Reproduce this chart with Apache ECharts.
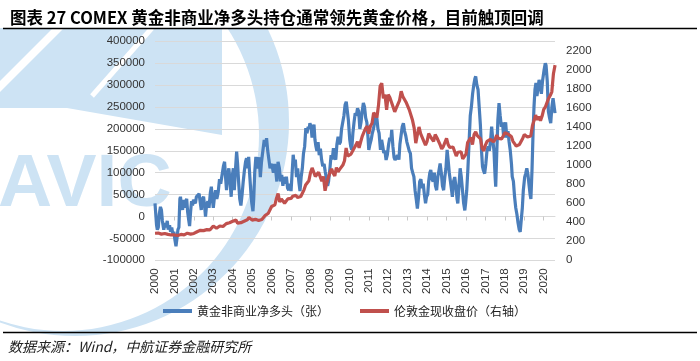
<!DOCTYPE html>
<html><head><meta charset="utf-8">
<script src="https://cdn.jsdelivr.net/npm/echarts@6/dist/echarts.min.js"></script>
<style>html,body{margin:0;padding:0;background:#fff}#c{width:700px;height:361px}</style>
</head><body><div id="c"></div>
<script>
const titleText = '图表 27 COMEX 黄金非商业净多头持仓通常领先黄金价格，目前触顶回调';
const sourceText = '数据来源：Wind，中航证券金融研究所';
const seriesNames = ['黄金非商业净多头（张）', '伦敦金现收盘价（右轴）'];
const yearTicks = [2000,2001,2002,2003,2004,2005,2006,2007,2008,2009,2010,2011,2012,2013,2014,2015,2016,2017,2018,2019,2020];

// COMEX gold non-commercial net long (contracts), [decimal year, value]
const netLong = [
[2000.00,30000],[2000.03,33000],[2000.08,-20000],[2000.12,-30000],[2000.17,-25000],[2000.22,5000],[2000.28,22000],[2000.33,15000],[2000.38,-10000],[2000.45,-30000],[2000.52,-15000],[2000.57,-25000],[2000.63,-10000],[2000.68,-30000],[2000.75,-20000],[2000.80,-35000],[2000.86,-25000],[2000.92,-40000],[2000.97,-35000],
[2001.03,-55000],[2001.08,-68000],[2001.13,-50000],[2001.18,-30000],[2001.23,-25000],[2001.28,40000],[2001.31,45000],[2001.36,25000],[2001.42,15000],[2001.47,38000],[2001.52,20000],[2001.58,35000],[2001.63,40000],[2001.68,10000],[2001.74,-10000],[2001.78,-22000],[2001.83,10000],[2001.88,35000],[2001.93,25000],[2001.98,38000],
[2002.03,40000],[2002.08,30000],[2002.13,45000],[2002.20,42000],[2002.27,52000],[2002.32,35000],[2002.38,15000],[2002.43,40000],[2002.50,45000],[2002.56,20000],[2002.60,0],[2002.65,25000],[2002.72,35000],[2002.78,20000],[2002.85,55000],[2002.90,68000],[2002.95,40000],
[2003.00,20000],[2003.06,45000],[2003.12,60000],[2003.18,40000],[2003.25,55000],[2003.32,85000],[2003.38,75000],[2003.45,95000],[2003.52,115000],[2003.58,125000],[2003.63,90000],[2003.68,60000],[2003.74,95000],[2003.80,110000],[2003.86,80000],[2003.92,45000],[2003.97,90000],
[2004.03,110000],[2004.08,60000],[2004.13,100000],[2004.20,148000],[2004.25,120000],[2004.30,80000],[2004.36,40000],[2004.42,25000],[2004.48,50000],[2004.54,80000],[2004.60,105000],[2004.66,125000],[2004.71,133000],[2004.76,110000],[2004.82,136000],[2004.88,90000],[2004.94,50000],[2004.98,30000],
[2005.04,12000],[2005.08,40000],[2005.13,100000],[2005.19,136000],[2005.25,110000],[2005.30,120000],[2005.36,135000],[2005.42,90000],[2005.48,125000],[2005.55,150000],[2005.62,175000],[2005.68,160000],[2005.74,179000],[2005.80,150000],[2005.86,130000],[2005.92,110000],[2005.97,120000],
[2006.03,115000],[2006.09,100000],[2006.15,120000],[2006.21,105000],[2006.27,80000],[2006.33,125000],[2006.40,110000],[2006.46,80000],[2006.52,95000],[2006.58,70000],[2006.64,90000],[2006.70,75000],[2006.76,91000],[2006.82,65000],[2006.88,60000],[2006.94,75000],
[2007.00,58000],[2007.05,60000],[2007.11,141000],[2007.16,120000],[2007.22,130000],[2007.28,90000],[2007.34,110000],[2007.40,80000],[2007.46,58000],[2007.52,90000],[2007.58,110000],[2007.64,144000],[2007.70,160000],[2007.76,202000],[2007.82,190000],[2007.88,205000],[2007.93,200000],[2007.97,213000],
[2008.03,205000],[2008.08,180000],[2008.13,200000],[2008.18,210000],[2008.23,175000],[2008.28,160000],[2008.33,150000],[2008.39,170000],[2008.45,140000],[2008.51,155000],[2008.57,130000],[2008.63,115000],[2008.70,120000],[2008.76,102000],[2008.82,103000],[2008.88,70000],[2008.93,80000],
[2009.00,110000],[2009.06,140000],[2009.12,130000],[2009.18,156000],[2009.24,135000],[2009.30,130000],[2009.36,165000],[2009.42,182000],[2009.48,165000],[2009.54,170000],[2009.60,200000],[2009.66,215000],[2009.72,230000],[2009.78,255000],[2009.84,262000],[2009.89,266000],[2009.95,220000],
[2010.02,175000],[2010.07,160000],[2010.12,152000],[2010.18,190000],[2010.24,215000],[2010.30,236000],[2010.36,230000],[2010.42,247000],[2010.48,240000],[2010.54,200000],[2010.60,215000],[2010.66,240000],[2010.72,259000],[2010.78,250000],[2010.84,225000],[2010.90,215000],[2010.96,180000],
[2011.00,152000],[2011.06,165000],[2011.12,175000],[2011.18,190000],[2011.24,200000],[2011.30,215000],[2011.36,236000],[2011.42,222000],[2011.47,200000],[2011.53,190000],[2011.60,152000],[2011.66,175000],[2011.72,160000],[2011.77,145000],[2011.83,150000],[2011.89,129000],[2011.95,140000],
[2012.02,165000],[2012.08,180000],[2012.14,175000],[2012.18,198000],[2012.24,160000],[2012.30,135000],[2012.35,129000],[2012.42,125000],[2012.48,140000],[2012.55,130000],[2012.60,165000],[2012.66,185000],[2012.72,205000],[2012.78,213000],[2012.84,195000],[2012.90,185000],[2012.96,170000],
[2013.02,160000],[2013.08,150000],[2013.14,144000],[2013.20,110000],[2013.26,100000],[2013.32,91000],[2013.38,60000],[2013.44,40000],[2013.50,18000],[2013.56,45000],[2013.62,80000],[2013.68,85000],[2013.74,65000],[2013.80,75000],[2013.86,50000],[2013.92,30000],[2013.97,45000],
[2014.03,50000],[2014.08,80000],[2014.14,100000],[2014.19,106000],[2014.25,85000],[2014.31,80000],[2014.37,100000],[2014.43,70000],[2014.49,60000],[2014.55,90000],[2014.61,105000],[2014.67,121000],[2014.73,100000],[2014.79,70000],[2014.85,60000],[2014.91,90000],[2014.97,110000],
[2015.03,152000],[2015.08,130000],[2015.14,100000],[2015.20,80000],[2015.26,60000],[2015.30,45000],[2015.36,80000],[2015.42,90000],[2015.48,70000],[2015.54,40000],[2015.58,30000],[2015.64,70000],[2015.70,110000],[2015.76,90000],[2015.82,60000],[2015.88,30000],[2015.94,14000],[2015.98,30000],
[2016.04,60000],[2016.10,110000],[2016.16,170000],[2016.22,230000],[2016.28,251000],[2016.34,280000],[2016.40,300000],[2016.46,315000],[2016.50,320000],[2016.56,300000],[2016.62,290000],[2016.68,250000],[2016.74,210000],[2016.80,150000],[2016.85,114000],[2016.90,105000],[2016.96,98000],
[2017.02,120000],[2017.08,150000],[2017.14,160000],[2017.20,150000],[2017.26,170000],[2017.32,205000],[2017.38,175000],[2017.44,150000],[2017.50,90000],[2017.53,68000],[2017.58,140000],[2017.64,220000],[2017.70,259000],[2017.76,230000],[2017.82,205000],[2017.88,215000],[2017.94,180000],[2017.98,200000],
[2018.04,215000],[2018.10,180000],[2018.16,195000],[2018.22,170000],[2018.28,150000],[2018.34,120000],[2018.38,91000],[2018.44,80000],[2018.50,45000],[2018.56,20000],[2018.62,5000],[2018.68,-15000],[2018.74,-30000],[2018.79,-35000],[2018.84,-10000],[2018.90,20000],[2018.95,60000],
[2019.02,90000],[2019.07,98000],[2019.13,110000],[2019.19,95000],[2019.25,70000],[2019.30,50000],[2019.34,40000],[2019.40,110000],[2019.45,190000],[2019.50,251000],[2019.55,290000],[2019.60,305000],[2019.65,275000],[2019.70,290000],[2019.76,312000],[2019.82,300000],[2019.88,280000],[2019.94,310000],
[2020.02,335000],[2020.08,350000],[2020.12,345000],[2020.18,310000],[2020.24,240000],[2020.30,225000],[2020.36,213000],[2020.42,250000],[2020.48,270000],[2020.54,266000],[2020.58,236000]
];

// London gold spot close (USD/oz), monthly from Jan 2000
const goldStart = 2000;
const goldPrice = [
284,300,286,280,275,285,282,275,272,268,266,272,
266,262,260,262,272,270,267,273,285,280,275,277,
282,296,300,303,315,320,312,310,322,318,320,340,
360,352,336,330,360,350,355,370,385,385,395,412,
410,400,422,390,392,395,390,410,415,425,450,438,
422,435,430,435,418,435,428,435,470,465,495,515,
565,555,582,652,700,612,645,625,600,605,645,635,
650,672,665,682,660,650,670,672,740,790,790,835,
920,970,980,880,890,925,915,830,880,730,810,870,
920,960,915,885,975,930,955,955,1000,1045,1180,1095,
1080,1115,1110,1180,1210,1245,1180,1245,1305,1345,1385,1410,
1330,1410,1440,1550,1530,1500,1630,1830,1860,1700,1740,1580,
1740,1710,1660,1650,1560,1600,1610,1680,1775,1720,1725,1660,
1665,1580,1600,1470,1390,1230,1320,1400,1330,1330,1250,1210,
1250,1330,1300,1300,1250,1320,1290,1290,1215,1170,1195,1200,
1280,1215,1185,1180,1190,1170,1095,1135,1115,1140,1065,1060,
1115,1235,1235,1290,1215,1320,1350,1310,1315,1275,1175,1150,
1210,1250,1245,1270,1270,1245,1270,1315,1280,1270,1275,1305,
1340,1320,1325,1315,1300,1250,1225,1200,1190,1215,1220,1280,
1320,1315,1295,1285,1305,1410,1430,1525,1475,1510,1465,1515,
1585,1610,1600,1700,1730,1770,1960,2050
];

const goldData = goldPrice.map((v, i) => [goldStart + i / 12, v]);
const WM = '#cde3f4';
const axisFont = 'Liberation Sans, Arial, sans-serif';
const cjkFont = 'Noto Sans CJK SC, sans-serif';

const chart = echarts.init(document.getElementById('c'), null, {renderer: 'canvas'});
chart.setOption({
  animation: false,
  backgroundColor: '#fff',
  title: {
    text: titleText, left: 5, top: 4,
    textStyle: {fontSize: 16.5, fontWeight: 'bold', color: '#000', fontFamily: cjkFont}
  },
  graphic: [
    {type: 'circle', z: -30, silent: true, shape: {cx: 75, cy: 122, r: 214}, style: {fill: WM}},
    {type: 'circle', z: -29, silent: true, shape: {cx: 63, cy: 135, r: 196}, style: {fill: '#fff'}},
    {type: 'polygon', z: -28, silent: true, shape: {points: [[0,28],[53,28],[0,81]]}, style: {fill: WM}},
    {type: 'polygon', z: -28, silent: true, shape: {points: [[0,92],[64,28],[222,28],[222,135],[67,108],[0,108]]}, style: {fill: WM}},
    {type: 'line', z: -27, silent: true, shape: {x1: 152, y1: 28, x2: 92, y2: 96}, style: {stroke: '#fff', lineWidth: 5}},
    {type: 'text', z: -27, silent: true, x: -2, y: 148,
      style: {text: 'AVIC', fill: WM, font: 'bold 75px Liberation Sans, Arial, sans-serif', textVerticalAlign: 'top'}},
    {type: 'rect', z: -26, silent: true, shape: {x: 0, y: 0, width: 700, height: 28}, style: {fill: '#fff'}},
    {type: 'line', silent: true, shape: {x1: 3, y1: 28.5, x2: 697, y2: 28.5}, style: {stroke: '#000', lineWidth: 1.5}},
    {type: 'line', silent: true, shape: {x1: 3, y1: 332.5, x2: 697, y2: 332.5}, style: {stroke: '#000', lineWidth: 1.5}},
    {type: 'text', silent: true, x: 8, y: 340,
      style: {text: sourceText, fill: '#222', font: 'italic 14px Noto Sans CJK SC, sans-serif', textVerticalAlign: 'top'}}
  ],
  legend: {
    left: 163, top: 305, padding: 0,
    itemWidth: 29, itemHeight: 4, itemGap: 31, icon: 'rect',
    textStyle: {fontSize: 12, color: '#222', fontFamily: cjkFont},
    data: seriesNames
  },
  grid: {left: 155, right: 145, top: 41.3, bottom: 100.7, containLabel: false, outerBoundsMode: 'none'},
  xAxis: [
    {
      type: 'value', min: 2000, max: 2020.58, position: 'bottom',
      axisLine: {show: false, onZero: false},
      axisTick: {show: false},
      splitLine: {show: false},
      axisLabel: {customValues: yearTicks, rotate: 90, margin: 8, fontSize: 11.5, color: '#333', fontFamily: axisFont,
        formatter: v => String(v)}
    },
    {
      type: 'value', min: 2000, max: 2020.58, position: 'bottom',
      axisLine: {show: true, onZero: true, onZeroAxisIndex: 0, lineStyle: {color: '#d9d9d9', width: 1}},
      axisTick: {show: true, customValues: yearTicks, length: 4, lineStyle: {color: '#c8c8c8'}},
      splitLine: {show: false},
      axisLabel: {show: false}
    }
  ],
  yAxis: [
    {
      type: 'value', min: -100000, max: 400000, interval: 50000,
      axisLine: {show: false}, axisTick: {show: false},
      splitLine: {lineStyle: {color: '#d9d9d9', width: 1}},
      axisLabel: {margin: 10, fontSize: 11.5, color: '#333', fontFamily: axisFont,
        formatter: v => String(v)}
    },
    {
      type: 'value', min: 0, max: 2300, interval: 200, position: 'right',
      axisLine: {show: false}, axisTick: {show: false}, splitLine: {show: false},
      axisLabel: {margin: 11, fontSize: 11.5, color: '#333', fontFamily: axisFont,
        formatter: v => (v % 200 === 0 ? String(v) : '')}
    }
  ],
  series: [
    {name: seriesNames[0], type: 'line', xAxisIndex: 0, yAxisIndex: 0, data: netLong,
      showSymbol: false, symbol: 'none', z: 3,
      lineStyle: {color: '#4a7ebb', width: 3.2}, itemStyle: {color: '#4a7ebb'}},
    {name: seriesNames[1], type: 'line', xAxisIndex: 0, yAxisIndex: 1, data: goldData,
      showSymbol: false, symbol: 'none', z: 4,
      lineStyle: {color: '#c0504d', width: 3.2}, itemStyle: {color: '#c0504d'}}
  ]
});
</script>
</body></html>
